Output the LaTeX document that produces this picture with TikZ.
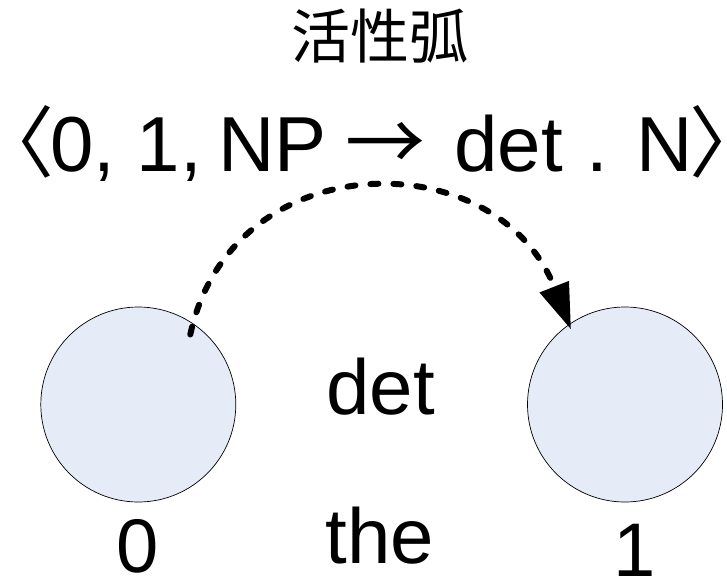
\documentclass[tikz,border=0pt]{standalone}
\usepackage{fontspec}
\setmainfont{Liberation Sans}
\newfontfamily\cjk{Noto Sans CJK JP}
\usetikzlibrary{arrows.meta,calc}
\definecolor{nodefill}{HTML}{E6ECF7}
\begin{document}
\begin{tikzpicture}[x=1pt,y=-1pt,
  state/.style={circle,draw=black,line width=0.7pt,fill=nodefill,minimum size=195pt,inner sep=0pt},
  txt/.style={inner sep=0pt,anchor=base west},
  arcedge/.style={line width=6pt,dash pattern=on 8pt off 15pt,line cap=round,
    -{Triangle[length=46pt,width=30pt]}}]
  \useasboundingbox (0,0) rectangle (727,578);
  % title and the active arc
  \node[inner sep=0pt,anchor=base,font=\cjk\fontsize{59}{64}\selectfont] (title) at (380,59) {活性弧};
  \node[txt,font=\fontsize{78}{86}\selectfont] (arc) at (50,171)
    {\llap{{\cjk 〈}\kern-4pt}0, 1, \kern-5pt NP \kern-3pt{\cjk\fontsize{80}{86}\selectfont →} \kern7pt det \kern2pt. N\rlap{\kern-4pt\cjk 〉}};
  % chart vertices
  \node[state] (v0) at (138.3,404.5) {};
  \node[state] (v1) at (625,404.5) {};
  \node[txt,font=\fontsize{76}{80}\selectfont] (n0) at (116,572) {0};
  \node[txt,font=\fontsize{76}{80}\selectfont] (n1) at (613,576) {1};
  % edge between the vertices
  \node[txt,font=\fontsize{78}{84}\selectfont] (cat) at (326.3,414) {det};
  \node[txt,font=\fontsize{78}{84}\selectfont] (word) at (325.6,563) {the};
  % dashed rule arc from vertex 0 to vertex 1
  \coordinate (s) at ($(v0)+(52,-70)$);
  \coordinate (e) at ($(v1)+(-54,-75)$);
  \draw[arcedge] (s) .. controls (232,143) and (497,141) .. (e);
\end{tikzpicture}
\end{document}
